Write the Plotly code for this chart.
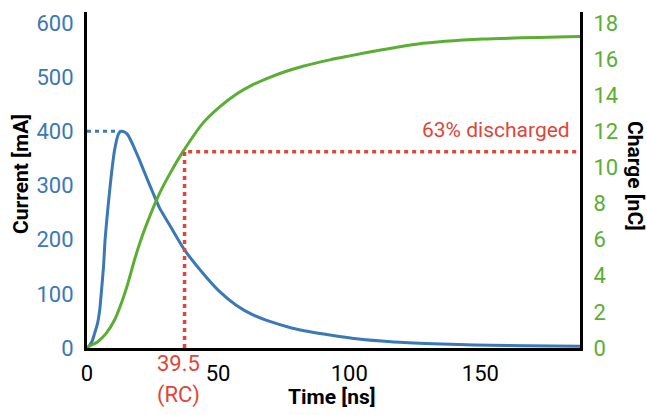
import plotly.graph_objects as go

# Current (blue, left axis)
t_current = [0, 1, 2, 2.9, 4, 4.8, 5.6, 6.3, 6.9, 7.9, 9.2, 10.5, 12, 13, 14.5, 15.6, 17.5, 20,
             22.6, 25.1, 27.7, 31.5, 37.2, 44.2, 50.6, 56.9, 63.3, 69.7, 78, 85, 92.6, 103.6,
             116, 129, 141.6, 154, 167, 188]
current_mA = [0, 5, 13, 27, 45, 68, 110, 150, 200, 255, 316, 365, 395, 400, 398, 393, 375, 347,
              316, 287, 258, 227, 181, 138, 104, 79, 61, 49, 37, 30, 24, 16.5, 11.5, 8.5, 6.3,
              5, 4, 3.3]

# Charge (green, right axis)
t_charge = [0, 1, 4.1, 7.3, 10.5, 13.1, 15.6, 18.1, 20, 22.6, 27.7, 32, 36.6, 44.2, 50.6, 56.9,
            63.3, 69.7, 76, 82.4, 92.6, 100.2, 112, 125.6, 151, 188]
charge_nC = [0, 0.11, 0.35, 0.81, 1.55, 2.48, 3.58, 4.87, 5.75, 6.8, 8.57, 9.75, 10.87, 12.45,
             13.35, 14.05, 14.58, 14.98, 15.32, 15.6, 15.95, 16.17, 16.5, 16.82, 17.1, 17.24]

peak_current = 400
peak_time = 12.4
rc_time = 37.2
rc_label = "39.5"
charge_63 = 10.87

x_ticks = [0, 50, 100, 150]
y_ticks = [0, 100, 200, 300, 400, 500, 600]
y2_ticks = [0, 2, 4, 6, 8, 10, 12, 14, 16, 18]

BLUE = "#3a78b7"
GREEN = "#5aae32"
RED = "#e0453a"
FONT = "Roboto, sans-serif"

fig = go.Figure()
fig.add_trace(go.Scatter(x=t_current, y=current_mA, mode="lines",
                         line=dict(color=BLUE, width=3, shape="spline", smoothing=0.6),
                         yaxis="y", showlegend=False))
fig.add_trace(go.Scatter(x=t_charge, y=charge_nC, mode="lines",
                         line=dict(color=GREEN, width=3, shape="spline", smoothing=0.6),
                         yaxis="y2", showlegend=False))

# dotted guides
fig.add_trace(go.Scatter(x=[0, peak_time], y=[peak_current, peak_current], mode="lines",
                         line=dict(color=BLUE, width=3, dash="4px,4px"), yaxis="y", showlegend=False))
fig.add_trace(go.Scatter(x=[rc_time, rc_time, 188], y=[0, charge_63, charge_63], mode="lines",
                         line=dict(color=RED, width=3.5, dash="4px,4px"), yaxis="y2", showlegend=False))

fig.update_layout(
    width=647, height=415,
    margin=dict(l=87, r=67, t=12, b=67),
    plot_bgcolor="white", paper_bgcolor="white",
    font=dict(family=FONT, size=22),
    xaxis=dict(range=[0, 188], tickvals=x_ticks, showgrid=False, zeroline=False,
               showline=True, linecolor="black", linewidth=3, ticks="",
               tickfont=dict(color="black", size=22), ticklabelstandoff=4),
    yaxis=dict(range=[0, 620], tickvals=y_ticks, showgrid=False, zeroline=False,
               showline=True, linecolor="black", linewidth=3, ticks="",
               tickfont=dict(color=BLUE, size=22), ticklabelstandoff=6),
    yaxis2=dict(range=[0, 18.6], tickvals=y2_ticks, overlaying="y", side="right",
                showgrid=False, zeroline=False, showline=True, linecolor="black", linewidth=3,
                ticks="", tickfont=dict(color=GREEN, size=22), ticklabelstandoff=6),
)

def px(xp):
    return (xp - 87) / 493

def py(yp):
    return (348 - yp) / 336

annos = [
    dict(text="<b>Current [mA]</b>", x=px(21), y=py(174), textangle=-90, font=dict(color="black", size=21)),
    dict(text="<b>Charge [nC]</b>", x=px(635), y=py(176), textangle=90, font=dict(color="black", size=21)),
    dict(text="<b>Time [ns]</b>", x=px(332), y=py(397), font=dict(color="black", size=21)),
    dict(text="63% discharged", x=px(572), y=py(130), xanchor="right", font=dict(color=RED, size=21)),
    dict(text=rc_label, x=px(178), y=py(363), font=dict(color=RED, size=22)),
    dict(text="(RC)", x=px(178), y=py(395), font=dict(color=RED, size=22)),
]
for a in annos:
    a.setdefault("xanchor", "center")
    fig.add_annotation(xref="paper", yref="paper", showarrow=False, yanchor="middle", **a)

fig.write_html("out.html", config={"displayModeBar": False},
               post_script="document.body.style.margin='0';document.body.style.overflow='hidden';")
